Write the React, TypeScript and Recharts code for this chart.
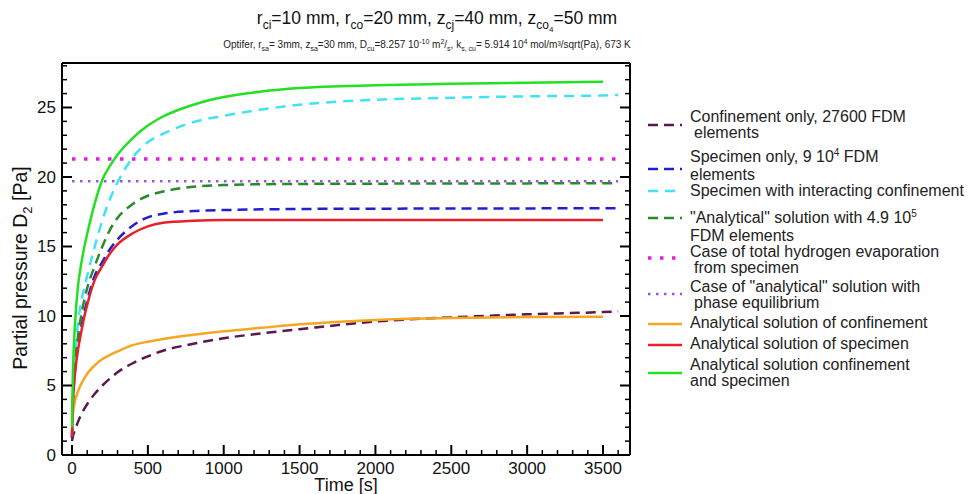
import React from 'react';
import { LineChart, Line, XAxis, YAxis } from 'recharts';

// time axis [s]
const time = [0, 5, 10, 20, 40, 60, 80, 100, 150, 200, 250, 300, 400, 500, 600, 800, 1000, 1250, 1500, 2000, 2500, 3000, 3500];
const timeLong = [0, 5, 10, 20, 40, 60, 80, 100, 150, 200, 250, 300, 400, 500, 600, 800, 1000, 1250, 1500, 2000, 2500, 3000, 3500, 3600];
const timeFlat = [0, 3600];

// partial pressure D2 [Pa]
const confinementFdm = [1.0, 1.3, 1.5, 1.8, 2.4, 2.9, 3.3, 3.65, 4.4, 5.0, 5.5, 5.95, 6.6, 7.1, 7.5, 8.0, 8.4, 8.75, 9.05, 9.6, 9.9, 10.12, 10.28, 10.32];
const specimenFdm = [1.2, 3.4, 4.6, 6.1, 7.9, 9.2, 10.2, 11.1, 12.9, 13.9, 14.8, 15.5, 16.5, 17.1, 17.35, 17.55, 17.62, 17.67, 17.7, 17.72, 17.73, 17.74, 17.75, 17.75];
const interacting = [1.5, 4.0, 5.4, 7.3, 9.5, 11.0, 12.0, 12.9, 15.0, 16.9, 18.4, 19.6, 21.4, 22.5, 23.1, 23.95, 24.4, 24.85, 25.2, 25.55, 25.7, 25.8, 25.87, 25.9];
const analyticalFdm = [1.3, 3.5, 4.8, 6.5, 8.6, 10.0, 11.1, 12.0, 13.6, 15.0, 16.2, 17.05, 18.05, 18.65, 18.95, 19.3, 19.42, 19.48, 19.5, 19.52, 19.53, 19.54, 19.55, 19.55];
const totalEvaporation = [21.3, 21.3];
const phaseEquilibrium = [19.7, 19.7];
const analyticalConfinement = [2.0, 2.8, 3.3, 3.9, 4.6, 5.1, 5.5, 5.85, 6.45, 6.9, 7.2, 7.45, 7.9, 8.15, 8.35, 8.65, 8.9, 9.15, 9.4, 9.72, 9.85, 9.92, 9.95];
const analyticalSpecimen = [1.3, 3.5, 4.6, 5.9, 7.6, 8.8, 9.9, 10.8, 12.6, 13.6, 14.5, 15.15, 15.95, 16.45, 16.7, 16.85, 16.9, 16.9, 16.9, 16.9, 16.9, 16.9, 16.9];
const analyticalBoth = [2.0, 5.5, 7.3, 9.5, 12.2, 13.7, 14.9, 15.9, 18.1, 19.8, 20.8, 21.6, 22.8, 23.7, 24.35, 25.2, 25.75, 26.15, 26.4, 26.6, 26.7, 26.78, 26.85];

// ticks
const xMajorTicks = [0, 500, 1000, 1500, 2000, 2500, 3000, 3500];
const xMinorTicks = [0, 100, 200, 300, 400, 500, 600, 700, 800, 900, 1000, 1100, 1200, 1300, 1400, 1500, 1600, 1700, 1800, 1900, 2000, 2100, 2200, 2300, 2400, 2500, 2600, 2700, 2800, 2900, 3000, 3100, 3200, 3300, 3400, 3500, 3600];
const yMajorTicks = [0, 5, 10, 15, 20, 25];
const yMinorTicks = [0, 1, 2, 3, 4, 5, 6, 7, 8, 9, 10, 11, 12, 13, 14, 15, 16, 17, 18, 19, 20, 21, 22, 23, 24, 25, 26, 27, 28];

const toPoints = (t: number[], v: number[]) => t.map((x, i) => ({ t: x, v: v[i] }));

const FONT = '"Liberation Sans", Arial, Helvetica, sans-serif';
const X_DOMAIN = [-66, 3678];
const Y_DOMAIN = [0, 28.2];

type Series = {
  key: string;
  data: { t: number; v: number }[];
  color: string;
  width: number;
  dash?: string;
};

const series: Series[] = [
  { key: 'confFdm', data: toPoints(timeLong, confinementFdm), color: '#5c1650', width: 2.5, dash: '10 6' },
  { key: 'specFdm', data: toPoints(timeLong, specimenFdm), color: '#2020d0', width: 2.5, dash: '10 6' },
  { key: 'inter', data: toPoints(timeLong, interacting), color: '#3fe3f2', width: 2.5, dash: '10 7' },
  { key: 'anaFdm', data: toPoints(timeLong, analyticalFdm), color: '#2a8a2a', width: 2.5, dash: '10 6' },
  { key: 'evap', data: toPoints(timeFlat, totalEvaporation), color: '#e020e0', width: 3.5, dash: '3.5 8.5' },
  { key: 'phase', data: toPoints(timeFlat, phaseEquilibrium), color: '#a050e8', width: 2.5, dash: '2.5 5.5' },
  { key: 'anaConf', data: toPoints(time, analyticalConfinement), color: '#f5a623', width: 2.5 },
  { key: 'anaSpec', data: toPoints(time, analyticalSpecimen), color: '#e8202a', width: 2.5 },
  { key: 'anaBoth', data: toPoints(time, analyticalBoth), color: '#22e022', width: 2.5 },
];

const Sup = ({ children }: { children: React.ReactNode }) => (
  <span style={{ fontSize: 10, position: 'relative', top: -6 }}>{children}</span>
);

const legendItems: { color: string; width: number; dash?: string; top: number; sample: number; lines: React.ReactNode[]; indent?: boolean }[] = [
  { color: '#5c1650', width: 2.5, dash: '10 6', top: 109, sample: 16, lines: ['Confinement only, 27600 FDM', 'elements'], indent: true },
  { color: '#2020d0', width: 2.5, dash: '10 6', top: 149, sample: 20, lines: [<>Specimen only, 9 10<Sup>4</Sup> FDM</>, 'elements'] },
  { color: '#3fe3f2', width: 2.5, dash: '10 7', top: 183, sample: 8, lines: ['Specimen with interacting confinement'] },
  { color: '#2a8a2a', width: 2.5, dash: '10 6', top: 210, sample: 8, lines: [<>"Analytical" solution with 4.9 10<Sup>5</Sup></>, 'FDM elements'] },
  { color: '#e020e0', width: 3.5, dash: '3.5 8.5', top: 244, sample: 14, lines: ['Case of total hydrogen evaporation', 'from specimen'], indent: true },
  { color: '#a050e8', width: 2.5, dash: '2.5 5.5', top: 279, sample: 15, lines: ['Case of "analytical" solution with', 'phase equilibrium'], indent: true },
  { color: '#f5a623', width: 2.5, top: 315, sample: 9, lines: ['Analytical solution of confinement'] },
  { color: '#e8202a', width: 2.5, top: 336, sample: 9, lines: ['Analytical solution of specimen'] },
  { color: '#22e022', width: 2.5, top: 357, sample: 16, lines: ['Analytical solution confinement', 'and specimen'] },
];

const labelStyle = { fill: '#111', fontSize: 17, fontFamily: FONT };
const axisLine = { stroke: '#000', strokeWidth: 2 };

// inward tick marks, long for major values, short for the rest
const tickLen = (major: boolean) => (major ? 10 : 5);
const tickW = (major: boolean) => (major ? 2 : 1.5);

function BottomTick(props: any) {
  const { x, y, payload } = props;
  const major = xMajorTicks.includes(payload.value);
  return (
    <g>
      <line x1={x} y1={y} x2={x} y2={y - tickLen(major)} stroke="#000" strokeWidth={tickW(major)} />
      {major && <text x={x} y={y + 19} textAnchor="middle" {...labelStyle}>{payload.value}</text>}
    </g>
  );
}

function TopTick(props: any) {
  const { x, y, payload } = props;
  const major = xMajorTicks.includes(payload.value);
  return <line x1={x} y1={y} x2={x} y2={y + tickLen(major)} stroke="#000" strokeWidth={tickW(major)} />;
}

function LeftTick(props: any) {
  const { x, y, payload } = props;
  const major = yMajorTicks.includes(payload.value);
  return (
    <g>
      <line x1={x} y1={y} x2={x + tickLen(major)} y2={y} stroke="#000" strokeWidth={tickW(major)} />
      {major && <text x={x - 6} y={y + 6} textAnchor="end" {...labelStyle}>{payload.value}</text>}
    </g>
  );
}

function RightTick(props: any) {
  const { x, y, payload } = props;
  const major = yMajorTicks.includes(payload.value);
  return <line x1={x} y1={y} x2={x - tickLen(major)} y2={y} stroke="#000" strokeWidth={tickW(major)} />;
}

function LegendBlock() {
  return (
    <div style={{ position: 'absolute', left: 0, top: 0, fontFamily: FONT, fontSize: 16, color: '#222' }}>
      {legendItems.map((it, i) => (
        <div key={i} style={{ position: 'absolute', left: 646, top: it.top, width: 322 }}>
          <svg width={38} height={6} style={{ position: 'absolute', left: 0, top: it.sample - 3 }}>
            <line x1={2} y1={3} x2={36} y2={3} stroke={it.color} strokeWidth={it.width} strokeDasharray={it.dash} />
          </svg>
          <div style={{ position: 'absolute', left: 44, top: 0, lineHeight: '15.5px', whiteSpace: 'nowrap' }}>
            {it.lines.map((ln, j) => (
              <div key={j} style={{ paddingLeft: j > 0 && it.indent ? 4 : 0 }}>{ln}</div>
            ))}
          </div>
        </div>
      ))}
    </div>
  );
}

export default function App() {
  return (
    <div style={{ position: 'absolute', left: 0, top: 0, width: 969, height: 494, background: '#fff', fontFamily: FONT }}>
      <div style={{ position: 'absolute', left: 0, top: 7, width: 874, textAlign: 'center', fontSize: 17.5, color: '#111', lineHeight: '22px' }}>
        r<sub style={{ fontSize: 12 }}>ci</sub>=10 mm, r<sub style={{ fontSize: 12 }}>co</sub>=20 mm, z<sub style={{ fontSize: 12 }}>cj</sub>=40 mm, z<sub style={{ fontSize: 12 }}>co<sub style={{ fontSize: 8 }}>4</sub></sub>=50 mm
      </div>
      <div style={{ position: 'absolute', left: 0, top: 35, width: 854, textAlign: 'center', fontSize: 10, color: '#222', lineHeight: '13px' }}>
        Optifer, r<sub style={{ fontSize: 7 }}>sa</sub>= 3mm, z<sub style={{ fontSize: 7 }}>sa</sub>=30 mm, D<sub style={{ fontSize: 7 }}>cu</sub>=8.257 10<sup style={{ fontSize: 7 }}>-10</sup> m<sup style={{ fontSize: 7 }}>2</sup>/<sub style={{ fontSize: 7 }}>s</sub>, k<sub style={{ fontSize: 7 }}>s, cu</sub>= 5.914 10<sup style={{ fontSize: 7 }}>4</sup> mol/m³/sqrt(Pa), 673 K
      </div>
      <div style={{ position: 'absolute', left: 22, top: 268, transform: 'translate(-50%, -50%) rotate(-90deg)', fontSize: 19.5, color: '#111', whiteSpace: 'nowrap' }}>
        Partial pressure D<sub style={{ fontSize: 13 }}>2</sub> [Pa]
      </div>
      <div style={{ position: 'absolute', left: 0, top: 0 }}>
        <LineChart width={969} height={494} margin={{ top: 63, right: 339, bottom: 0, left: 0 }}>
          <XAxis dataKey="t" type="number" domain={X_DOMAIN} allowDataOverflow ticks={xMinorTicks} interval={0}
            height={39} tickSize={0} tickMargin={0} tickLine={false} axisLine={axisLine} tick={<BottomTick />}
            label={{ value: 'Time [s]', position: 'insideBottom', offset: 3, fontSize: 18, fill: '#111', fontFamily: FONT }} />
          <XAxis xAxisId="top" type="number" domain={X_DOMAIN} allowDataOverflow ticks={xMinorTicks} interval={0}
            orientation="top" mirror height={1} tickSize={0} tickMargin={0} tickLine={false} axisLine={axisLine} tick={<TopTick />} />
          <YAxis type="number" domain={Y_DOMAIN} allowDataOverflow ticks={yMinorTicks} interval={0}
            width={62} tickSize={0} tickMargin={0} tickLine={false} axisLine={axisLine} tick={<LeftTick />} />
          <YAxis yAxisId="right" type="number" domain={Y_DOMAIN} allowDataOverflow ticks={yMinorTicks} interval={0}
            orientation="right" mirror width={1} tickSize={0} tickMargin={0} tickLine={false} axisLine={axisLine} tick={<RightTick />} />
          {series.map((s) => (
            <Line key={s.key} data={s.data} dataKey="v" type="monotone" stroke={s.color} strokeWidth={s.width}
              strokeDasharray={s.dash} dot={false} activeDot={false} isAnimationActive={false} />
          ))}
        </LineChart>
      </div>
      <LegendBlock />
    </div>
  );
}
